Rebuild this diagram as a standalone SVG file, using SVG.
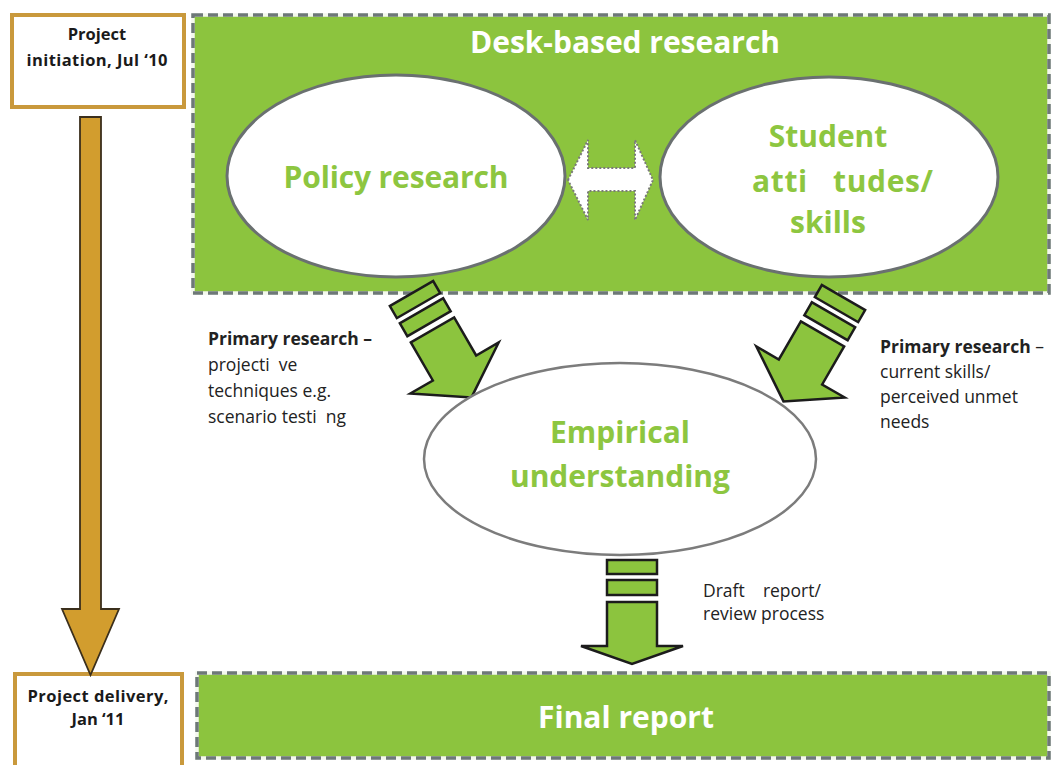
<svg xmlns="http://www.w3.org/2000/svg" width="1051" height="765" viewBox="0 0 1051 765">
  <style>
    .band { fill: #8cc43e; }
    .band-under { fill: none; stroke: #f4f8ee; stroke-width: 3.5; }
    .band-dash { fill: none; stroke: #6e7878; stroke-width: 3.5; stroke-dasharray: 10 5; }
    .milestone { fill: #ffffff; stroke: #c9993c; stroke-width: 4; }
    .bubble { fill: #ffffff; stroke: #6a7070; stroke-width: 3; }
    .bubble-light { fill: #ffffff; stroke: #7c7c7c; stroke-width: 2.5; }
    .flow { fill: #8cc43e; stroke: #1c1c1c; stroke-width: 2.5; stroke-linejoin: miter; }
    .timeline { fill: #d29d2e; stroke: #3b2f1c; stroke-width: 1.8; stroke-linejoin: miter; }
    .swap { fill: #ffffff; stroke: #7a7a7a; stroke-width: 2; stroke-dasharray: 2 2; }
    text { font-family: "Open Sans", Lato, "Liberation Sans", sans-serif; }
    .head-white { fill: #ffffff; font-weight: 700; font-size: 30px; text-anchor: middle; }
    .head-green { fill: #8dc640; font-weight: 700; font-size: 30px; text-anchor: middle; }
    .mile-text { fill: #1a1a1a; font-weight: 700; font-size: 16.5px; text-anchor: middle; }
    .note { fill: #222222; font-size: 17.5px; }
    .b { font-weight: 700; }
  </style>
  <defs>
    <!-- striped block arrow, pointing down, origin at top centre -->
    <g id="stripe-arrow">
      <rect class="flow" x="-25" y="0" width="50" height="14"/>
      <rect class="flow" x="-25" y="20" width="50" height="15"/>
      <path class="flow" d="M-25,42 H25 V86 H51 L0,104 L-51,86 H-25 Z"/>
    </g>
    <!-- same arrow with a longer head, used for the slanted feeds -->
    <g id="stripe-arrow-long">
      <rect class="flow" x="-25" y="0" width="50" height="14"/>
      <rect class="flow" x="-25" y="20" width="50" height="15"/>
      <path class="flow" d="M-25,42 H25 V86 H51 L0,120 L-51,86 H-25 Z"/>
    </g>
  </defs>

  <!-- Desk-based research band -->
  <g id="desk-research">
    <rect class="band" x="193" y="15" width="856" height="278"/>
    <rect class="band-under" x="193" y="15" width="856" height="278"/>
    <rect class="band-dash" x="193" y="15" width="856" height="278"/>
    <text class="head-white" x="625" y="53" textLength="310">Desk-based research</text>
  </g>

  <!-- Final report band -->
  <g id="final-report">
    <rect class="band" x="197" y="673" width="852" height="85"/>
    <rect class="band-under" x="197" y="673" width="852" height="85"/>
    <rect class="band-dash" x="197" y="673" width="852" height="85"/>
    <text class="head-white" x="626" y="728">Final report</text>
  </g>

  <!-- Timeline milestones -->
  <g id="project-initiation">
    <rect class="milestone" x="12" y="15" width="172" height="92"/>
    <text class="mile-text" x="97" y="40">Project</text>
    <text class="mile-text" x="97" y="66" textLength="141">initiation, Jul ‘10</text>
  </g>
  <g id="project-delivery">
    <rect class="milestone" x="15" y="674" width="167" height="100"/>
    <text class="mile-text" x="98" y="702" textLength="141">Project delivery,</text>
    <text class="mile-text" x="98" y="725">Jan ‘11</text>
  </g>

  <!-- Connectors -->
  <g id="connectors">
    <path class="timeline" d="M80,117 H101 V609 H119 L90.5,675 L62,609 H80 Z"/>
    <path class="swap" d="M568,180 L588,140 V168 H635 V140 L653,180 L635,220 V191 H588 V220 Z"/>
    <use href="#stripe-arrow-long" transform="translate(411.5,293.5) rotate(-30)"/>
    <use href="#stripe-arrow-long" transform="translate(843.5,297.5) rotate(30)"/>
    <use href="#stripe-arrow" transform="translate(632,560)"/>
  </g>

  <!-- Research streams -->
  <g id="policy-research">
    <ellipse class="bubble" cx="396" cy="176" rx="169" ry="101"/>
    <text class="head-green" x="396" y="188" textLength="225">Policy research</text>
  </g>
  <g id="student-attitudes">
    <ellipse class="bubble" cx="829" cy="177" rx="169" ry="100"/>
    <text class="head-green" x="828" y="147">Student</text>
    <text class="head-green" x="842.5" y="192" xml:space="preserve" textLength="181">atti   tudes/</text>
    <text class="head-green" x="828" y="233">skills</text>
  </g>
  <g id="empirical-understanding">
    <ellipse class="bubble-light" cx="620" cy="459" rx="196" ry="96"/>
    <text class="head-green" x="620" y="443">Empirical</text>
    <text class="head-green" x="620" y="487" textLength="220">understanding</text>
  </g>

  <!-- Connector labels -->
  <g id="label-projective">
    <text class="note b" x="208" y="345">Primary research –</text>
    <text class="note" x="208" y="371" xml:space="preserve">projecti  ve</text>
    <text class="note" x="208" y="397">techniques e.g.</text>
    <text class="note" x="208" y="423" xml:space="preserve">scenario testi  ng</text>
  </g>
  <g id="label-skills">
    <text class="note" x="880" y="353"><tspan class="b">Primary research</tspan> –</text>
    <text class="note" x="880" y="378">current skills/</text>
    <text class="note" x="880" y="403">perceived unmet</text>
    <text class="note" x="880" y="428">needs</text>
  </g>
  <g id="label-draft">
    <text class="note" x="703" y="597" xml:space="preserve">Draft    report/</text>
    <text class="note" x="703" y="620">review process</text>
  </g>
</svg>
